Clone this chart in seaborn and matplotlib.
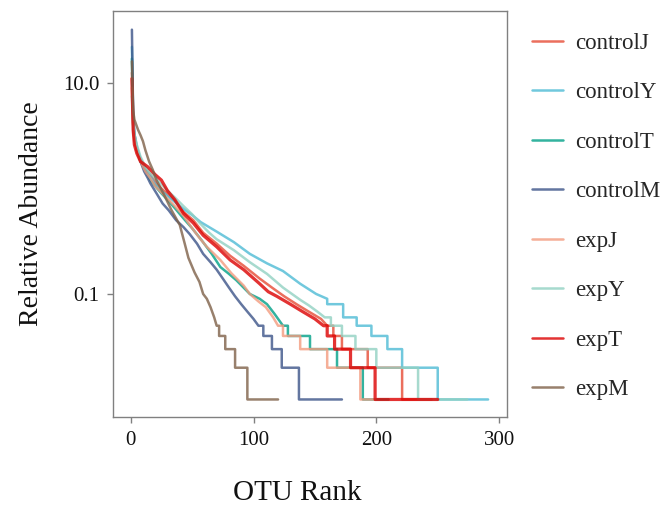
import matplotlib
matplotlib.use("Agg")
import matplotlib.pyplot as plt
import numpy as np
import pandas as pd
import seaborn as sns
from matplotlib.ticker import FixedLocator, NullLocator

# ---------------- data ----------------
groups = ["controlJ", "controlY", "controlT", "controlM", "expJ", "expY", "expT", "expM"]
colors = ["#E64B35", "#4DBBD5", "#00A087", "#3C5488", "#F39B7F", "#91D1C2", "#DC0000", "#7E6148"]

# OTU rank / relative abundance (%) ; repeated ranks mark the vertical drops of the step tail
rank_controlJ = [1, 2, 3, 5, 8, 12, 16, 20, 25, 30, 36, 43, 51, 59, 70, 81, 92, 105, 115, 125, 135, 145, 155, 160,
                 165, 165, 172, 172, 193, 193, 221, 221, 245]
abund_controlJ = [12.5, 4.2, 3.0, 2.3, 1.9, 1.55, 1.35, 1.15, 1.0, 0.88, 0.76, 0.6, 0.5, 0.38, 0.3, 0.23, 0.185, 0.14,
                  0.115, 0.095, 0.08, 0.068, 0.058, 0.05, 0.05, 0.04, 0.04, 0.03, 0.03, 0.02, 0.02, 0.01, 0.01]

rank_controlY = [1, 2, 3, 5, 8, 12, 16, 20, 25, 30, 40, 50, 57, 70, 84, 97, 111, 124, 138, 151, 160,
                 160, 173, 173, 184, 184, 196, 196, 209, 209, 221, 221, 250, 250, 291]
abund_controlY = [22, 5.0, 3.3, 2.5, 1.9, 1.5, 1.3, 1.1, 0.95, 0.85, 0.68, 0.56, 0.48, 0.39, 0.31, 0.24, 0.195, 0.165,
                  0.125, 0.1, 0.09, 0.08, 0.08, 0.06, 0.06, 0.05, 0.05, 0.04, 0.04, 0.03, 0.03, 0.02, 0.02, 0.01, 0.01]

rank_controlT = [1, 2, 3, 5, 8, 12, 16, 20, 25, 30, 36, 43, 50, 58, 66, 73, 80, 86, 97, 105, 111, 117, 124,
                 128, 128, 146, 146, 168, 168, 189, 189, 210]
abund_controlT = [17, 4.0, 2.9, 2.3, 1.8, 1.45, 1.2, 1.05, 0.9, 0.78, 0.65, 0.52, 0.42, 0.32, 0.24, 0.18, 0.155, 0.135,
                  0.1, 0.09, 0.08, 0.065, 0.05, 0.05, 0.04, 0.04, 0.03, 0.03, 0.02, 0.02, 0.01, 0.01]

rank_controlM = [1, 2, 3, 5, 8, 11, 14, 16, 21, 26, 31, 37, 43, 48, 54, 59, 65, 70, 75, 80, 85, 90, 95, 100, 104,
                 108, 108, 115, 115, 123, 123, 137, 137, 172]
abund_controlM = [32, 5.0, 3.3, 2.4, 1.8, 1.45, 1.25, 1.12, 0.9, 0.72, 0.62, 0.5, 0.43, 0.37, 0.3, 0.24, 0.2, 0.17,
                  0.14, 0.115, 0.095, 0.08, 0.068, 0.058, 0.05, 0.05, 0.04, 0.04, 0.03, 0.03, 0.02, 0.02, 0.01, 0.01]

rank_expJ = [1, 2, 3, 5, 8, 12, 16, 20, 25, 30, 36, 43, 50, 56, 62, 73, 82, 92, 97, 104, 110, 116, 120,
             124, 124, 138, 138, 160, 160, 187, 187, 199]
abund_expJ = [9, 4.0, 3.0, 2.3, 1.8, 1.45, 1.25, 1.05, 0.92, 0.8, 0.68, 0.55, 0.42, 0.34, 0.28, 0.21, 0.157, 0.12,
              0.1, 0.085, 0.075, 0.06, 0.05, 0.05, 0.04, 0.04, 0.03, 0.03, 0.02, 0.02, 0.01, 0.01]

rank_expY = [1, 2, 3, 5, 8, 12, 16, 20, 25, 30, 36, 43, 50, 57, 64, 70, 84, 97, 111, 124, 138, 145, 152, 158,
             163, 163, 172, 172, 183, 183, 200, 200, 234, 234, 274]
abund_expY = [7.5, 4.2, 3.3, 2.6, 2.0, 1.6, 1.4, 1.25, 1.1, 0.95, 0.82, 0.68, 0.57, 0.46, 0.38, 0.33, 0.26, 0.2, 0.155,
              0.115, 0.088, 0.078, 0.068, 0.06, 0.06, 0.05, 0.05, 0.04, 0.04, 0.03, 0.03, 0.02, 0.02, 0.01, 0.01]

rank_expT = [1, 2, 3, 5, 8, 14, 20, 25, 30, 36, 43, 51, 59, 70, 81, 92, 105, 112, 119, 130, 140, 150, 157,
             160, 160, 166, 166, 179, 179, 199, 199, 250]
abund_expT = [11, 3.6, 2.6, 2.15, 1.8, 1.6, 1.35, 1.2, 0.95, 0.78, 0.58, 0.47, 0.36, 0.28, 0.21, 0.17, 0.125, 0.105,
              0.095, 0.08, 0.068, 0.058, 0.05, 0.05, 0.04, 0.04, 0.03, 0.03, 0.02, 0.02, 0.01, 0.01]

rank_expM = [1, 2, 3, 6, 8, 10, 12, 15, 18, 21, 27, 33, 40, 44, 47, 52, 56, 59, 62, 65, 68, 70,
             72, 72, 77, 77, 85, 85, 95, 95, 120]
abund_expM = [16, 5.5, 4.5, 3.6, 3.2, 2.8, 2.3, 1.8, 1.5, 1.2, 0.88, 0.63, 0.45, 0.3, 0.22, 0.16, 0.13, 0.1, 0.09,
              0.075, 0.06, 0.05, 0.05, 0.04, 0.04, 0.03, 0.03, 0.02, 0.02, 0.01, 0.01]

series = {
    "controlJ": (rank_controlJ, abund_controlJ),
    "controlY": (rank_controlY, abund_controlY),
    "controlT": (rank_controlT, abund_controlT),
    "controlM": (rank_controlM, abund_controlM),
    "expJ": (rank_expJ, abund_expJ),
    "expY": (rank_expY, abund_expY),
    "expT": (rank_expT, abund_expT),
    "expM": (rank_expM, abund_expM),
}

frames = []
for g in groups:
    r, a = series[g]
    frames.append(pd.DataFrame({"rank": r, "abund": a, "group": g}))
df = pd.concat(frames, ignore_index=True)

# ---------------- plot ----------------
sns.set_style("white")
plt.rcParams["font.family"] = ["Liberation Serif", "DejaVu Serif"]

fig = plt.figure(figsize=(6.63, 5.08), dpi=100)
ax = fig.add_axes([113 / 663, 1 - 417 / 508, 394 / 663, 406 / 508])

sns.lineplot(data=df, x="rank", y="abund", hue="group", hue_order=groups,
             palette=dict(zip(groups, colors)), estimator=None, sort=False,
             linewidth=1.8, alpha=0.8, ax=ax)
ax.lines[6].set_linewidth(2.3)

ax.set_yscale("log")
ax.set_xlim(-14.4, 306.4)
ax.set_ylim(0.00682, 48.1)
ax.xaxis.set_major_locator(FixedLocator([0, 100, 200, 300]))
ax.yaxis.set_major_locator(FixedLocator([0.1, 10]))
ax.yaxis.set_minor_locator(NullLocator())
ax.set_yticklabels(["0.1", "10.0"])
ax.set_xticklabels(["0", "100", "200", "300"])

for s in ax.spines.values():
    s.set_color("#808080")
    s.set_linewidth(1.0)
ax.tick_params(axis="both", which="major", direction="out", length=4, width=1,
               color="#808080", labelsize=15, labelcolor="#111111", pad=6,
               bottom=True, left=True)

ax.set_xlabel("OTU Rank", fontsize=21, color="#111111")
ax.set_ylabel("Relative Abundance", fontsize=20, color="#111111")
ax.xaxis.set_label_coords(0.467, -0.155)
ax.yaxis.set_label_coords(-0.175, 0.5)

handles, labels = ax.get_legend_handles_labels()
for h in handles:
    h.set_linewidth(1.8)
ax.legend(handles, labels, loc="upper left", bbox_to_anchor=(532 / 663, 1 - 33 / 508),
          bbox_transform=fig.transFigure, frameon=False, fontsize=16.5, labelspacing=1.24,
          handlelength=1.35, handletextpad=0.55, borderpad=0, borderaxespad=0)

fig.savefig("out.png", dpi=100)
